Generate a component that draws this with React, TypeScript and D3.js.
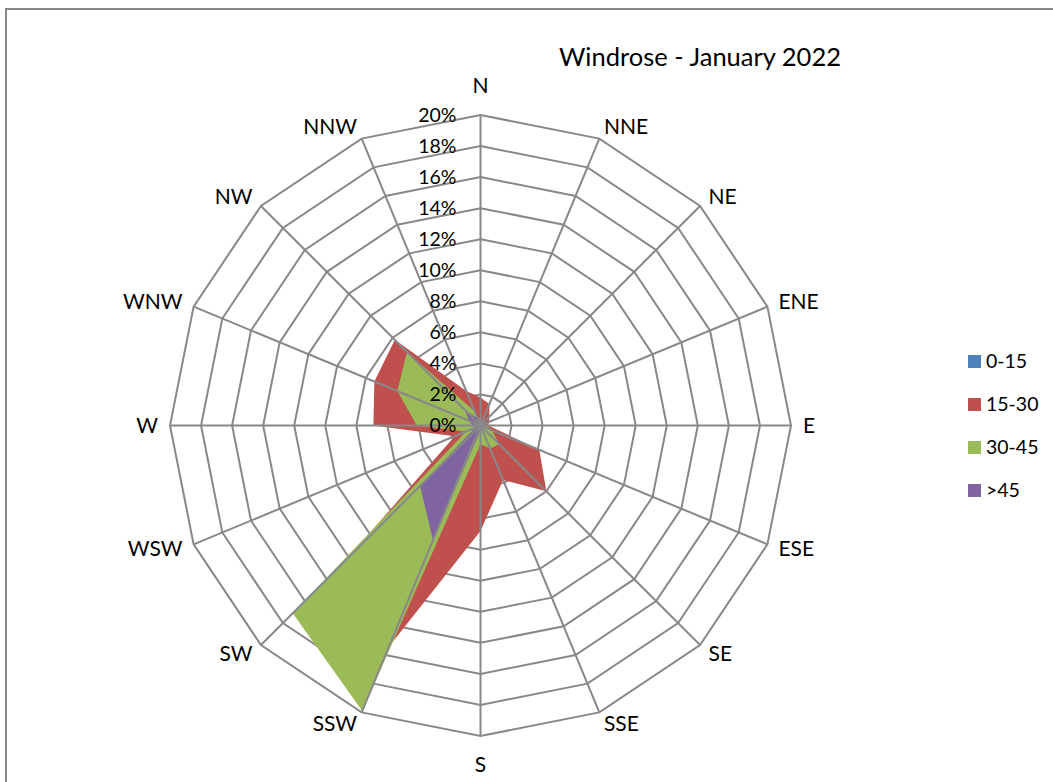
import * as d3 from "d3";

// wind directions, clockwise from north
const directions = [
  "N", "NNE", "NE", "ENE", "E", "ESE", "SE", "SSE",
  "S", "SSW", "SW", "WSW", "W", "WNW", "NW", "NNW",
];

// share of hours per direction (%), one array per speed band
const speed_0_15 = [0, 0, 0, 0, 0, 0, 0, 0, 0, 0, 0, 0, 0, 0, 0, 0];
const speed_15_30 = [1.8, 1.5, 0.8, 0.6, 0.5, 4.1, 6.0, 3.8, 6.8, 15.4, 12.2, 1.8, 6.9, 7.4, 7.8, 2.4];
const speed_30_45 = [0.3, 0.3, 0.2, 0.3, 0.4, 0.8, 1.7, 1.6, 1.2, 19.9, 17.1, 1.0, 4.1, 5.8, 6.7, 1.0];
const speed_over_45 = [0.3, 0.2, 0.1, 0.1, 0.1, 0.2, 0.3, 0.3, 0.3, 8.0, 5.5, 0.4, 0.5, 0.8, 1.4, 0.5];

const seriesNames = ["0-15", "15-30", "30-45", ">45"];
const seriesValues = [speed_0_15, speed_15_30, speed_30_45, speed_over_45];
const seriesColors = ["#4F81BD", "#C0504D", "#9BBB59", "#8064A2"];

const radialTicks = d3.range(0, 21, 2);

const title = "Windrose - January 2022";

const width = 1053;
const height = 782;
const cx = 480.5;
const cy = 425.5;
const outerRadius = 310.5;
const gridColor = "#888888";
const font = "Lato, 'Open Sans', sans-serif";

export default function App() {
  const r = d3.scaleLinear().domain([0, 20]).range([0, outerRadius]);
  const angle = d3.scaleLinear().domain([0, directions.length]).range([0, 2 * Math.PI]);

  const radial = d3
    .lineRadial<number>()
    .angle((_, i) => angle(i))
    .radius((d) => r(d))
    .curve(d3.curveLinearClosed);

  const point = (i: number, v: number): [number, number] => [
    r(v) * Math.sin(angle(i)),
    -r(v) * Math.cos(angle(i)),
  ];

  return (
    <svg
      width={width}
      height={height}
      style={{ position: "absolute", left: 0, top: 0, background: "#fff" }}
      fontFamily={font}
    >
      {/* chart frame, its right and bottom edges fall outside the picture */}
      <rect x={6} y={9} width={1100} height={800} fill="#fff" stroke="#888" strokeWidth={2} />

      <text x={700} y={66} textAnchor="middle" fontSize={25.5} fill="#000">
        {title}
      </text>

      <g transform={`translate(${cx},${cy})`}>
        {/* rings */}
        <g fill="none" stroke={gridColor} strokeWidth={2}>
          {radialTicks.slice(1).map((t) => (
            <path key={t} d={radial(directions.map(() => t)) ?? ""} />
          ))}
        </g>

        {/* filled series, drawn in order so later bands sit on top */}
        {seriesValues.map((vals, s) => (
          <path key={s} d={radial(vals) ?? ""} fill={seriesColors[s]} stroke="none" />
        ))}

        {/* spokes sit above the fills, like excel does it */}
        <g stroke={gridColor} strokeWidth={2}>
          {directions.map((d, i) => {
            const [x, y] = point(i, 20);
            return <line key={d} x1={0} y1={0} x2={x} y2={y} />;
          })}
        </g>

        {/* radial tick labels along the north axis */}
        {radialTicks.map((t) => (
          <text
            key={t}
            x={-24}
            y={-r(t)}
            dy="0.35em"
            textAnchor="end"
            fontSize={19.5}
            fill="#000"
          >
            {t}%
          </text>
        ))}

        {/* direction labels */}
        {directions.map((d, i) => {
          const a = angle(i);
          const sin = Math.sin(a);
          const cos = Math.cos(a);
          const [vx, vy] = point(i, 20);
          let anchor = "middle";
          let x = vx;
          let y = vy - cos * 12.5;
          if (sin > 0.1) {
            anchor = "start";
            x = vx + 12 * sin;
          } else if (sin < -0.1) {
            anchor = "end";
            x = vx + 12 * sin;
          } else {
            y = vy - cos * 29;
          }
          return (
            <text key={d} x={x} y={y} dy="0.35em" textAnchor={anchor} fontSize={21} fill="#000">
              {d}
            </text>
          );
        })}
      </g>

      {/* legend */}
      {seriesNames.map((name, i) => (
        <g key={name} transform={`translate(968,${361.5 + i * 43})`}>
          <rect x={0} y={-6.5} width={13} height={13} fill={seriesColors[i]} />
          <text x={18} y={0} dy="0.35em" fontSize={19.5} fill="#000">
            {name}
          </text>
        </g>
      ))}
    </svg>
  );
}
